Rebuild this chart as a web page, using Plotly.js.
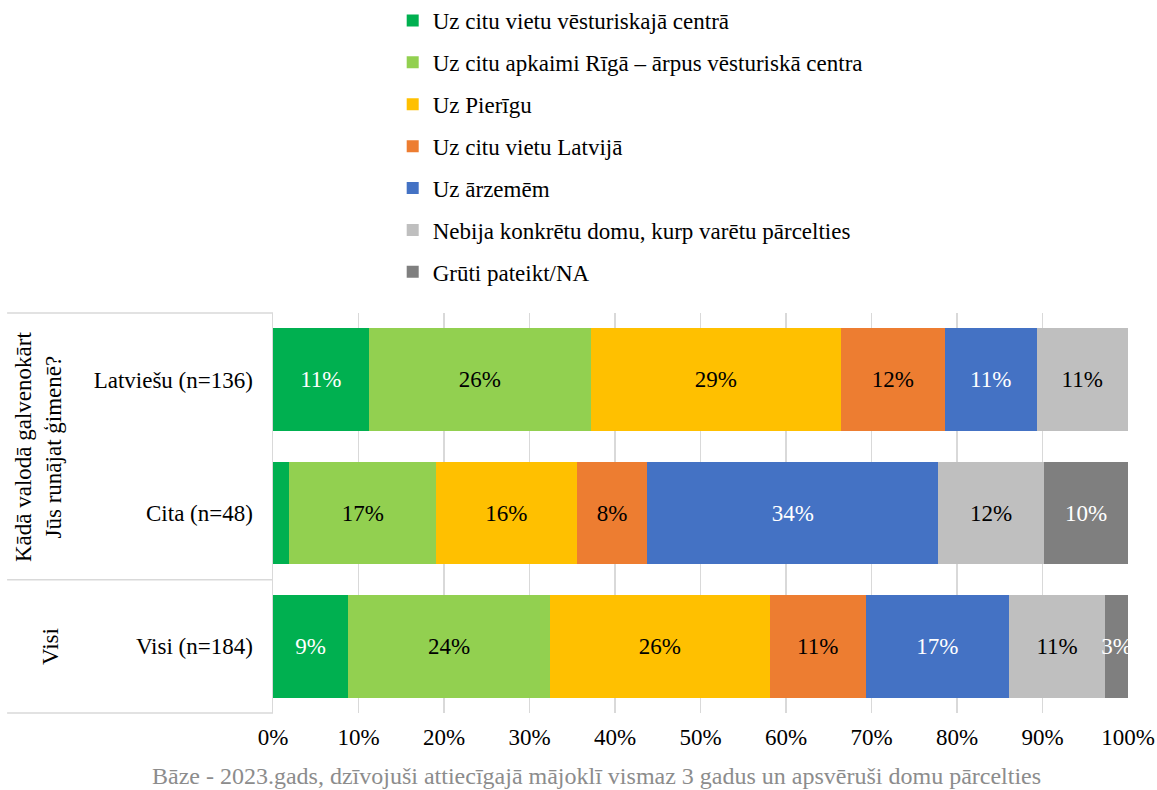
<!DOCTYPE html>
<html>
<head>
<meta charset="utf-8">
<script src="https://cdn.plot.ly/plotly-3.0.1.min.js"></script>
<style>html,body{margin:0;padding:0;background:#fff}#chart{width:1157px;height:790px}</style>
</head>
<body>
<div id="chart"></div>
<script>
const categories = ["Latviešu (n=136)", "Cita (n=48)", "Visi (n=184)"];
const seriesNames = [
  "Uz citu vietu vēsturiskajā centrā",
  "Uz citu apkaimi Rīgā – ārpus vēsturiskā centra",
  "Uz Pierīgu",
  "Uz citu vietu Latvijā",
  "Uz ārzemēm",
  "Nebija konkrētu domu, kurp varētu pārcelties",
  "Grūti pateikt/NA"
];
const vesturiskajaCentra = [11.2, 1.9, 8.8];
const citaApkaimeRiga   = [26.0, 17.2, 23.6];
const pieriga           = [29.2, 16.4, 25.7];
const citaVietaLatvija  = [12.2, 8.3, 11.2];
const arzemes           = [10.7, 34.0, 16.8];
const nebijaDomu        = [10.7, 12.4, 11.2];
const grutiPateikt      = [0.0, 9.8, 2.7];
const xTickVals = [0, 10, 20, 30, 40, 50, 60, 70, 80, 90, 100];
const xTickText = ["0%", "10%", "20%", "30%", "40%", "50%", "60%", "70%", "80%", "90%", "100%"];
const groupLabel1 = "Kādā valodā galvenokārt<br>Jūs runājat ģimenē?";
const groupLabel2 = "Visi";
const footnote = "Bāze - 2023.gads, dzīvojuši attiecīgajā mājoklī vismaz 3 gadus un apsvēruši domu pārcelties";

const seriesValues = [vesturiskajaCentra, citaApkaimeRiga, pieriga, citaVietaLatvija, arzemes, nebijaDomu, grutiPateikt];
const colors = ["#00B050", "#92D050", "#FFC000", "#ED7D31", "#4472C4", "#BFBFBF", "#7F7F7F"];
const textColors = ["#ffffff", "#000000", "#000000", "#000000", "#ffffff", "#000000", "#ffffff"];

const FONT = "Times New Roman, Liberation Serif, DejaVu Serif, serif";
const FS = 23;

const traces = seriesValues.map((vals, i) => ({
  type: "bar",
  orientation: "h",
  name: seriesNames[i],
  legendgroup: "g" + i,
  y: categories,
  x: vals,
  width: 0.77,
  marker: {color: colors[i], line: {width: 0}},
  text: vals.map(v => v >= 2.5 ? Math.round(v) + "%" : ""),
  textposition: "inside",
  insidetextanchor: "middle",
  textangle: 0,
  constraintext: "none",
  cliponaxis: true,
  insidetextfont: {family: FONT, size: FS, color: textColors[i]},
  hoverinfo: "skip"
}));

const layout = {
  width: 1157, height: 790,
  margin: {l: 273, r: 29, t: 313, b: 77, pad: 0, autoexpand: false},
  paper_bgcolor: "#ffffff", plot_bgcolor: "#ffffff",
  barmode: "stack",
  font: {family: FONT, size: FS, color: "#000"},
  showlegend: true,
  legend: {
    x: 0.140, xanchor: "left", y: 1.785, yanchor: "top",
    orientation: "v", traceorder: "grouped", tracegroupgap: 9,
    font: {family: FONT, size: FS, color: "#000"},
    bgcolor: "rgba(0,0,0,0)"
  },
  xaxis: {
    range: [0, 100], tickvals: xTickVals, ticktext: xTickText,
    showgrid: true, gridcolor: "#D9D9D9", gridwidth: 1.5,
    zeroline: false, showline: false, ticks: "",
    ticklabelstandoff: 8,
    tickfont: {family: FONT, size: FS, color: "#000"},
    fixedrange: true
  },
  yaxis: {
    autorange: "reversed", type: "category",
    showgrid: false, zeroline: false,
    showline: true, linecolor: "#D9D9D9", linewidth: 1.5,
    ticks: "", ticklabelstandoff: 14,
    tickfont: {family: FONT, size: FS, color: "#000"},
    fixedrange: true
  },
  shapes: [
    {type: "line", xref: "paper", yref: "paper", x0: -0.311, x1: 0, y0: 1, y1: 1, line: {color: "#D9D9D9", width: 1.5}},
    {type: "line", xref: "paper", yref: "y", x0: -0.311, x1: 0, y0: 1.5, y1: 1.5, line: {color: "#D9D9D9", width: 1.5}},
    {type: "line", xref: "paper", yref: "paper", x0: -0.311, x1: 0, y0: 0, y1: 0, line: {color: "#D9D9D9", width: 1.5}}
  ],
  annotations: [
    {xref: "paper", yref: "y", x: -0.274, y: 0.5, text: groupLabel1, textangle: -90, showarrow: false,
     font: {family: FONT, size: FS, color: "#000"}, xanchor: "center", yanchor: "middle"},
    {xref: "paper", yref: "y", x: -0.260, y: 2, text: groupLabel2, textangle: -90, showarrow: false,
     font: {family: FONT, size: FS, color: "#000"}, xanchor: "center", yanchor: "middle"},
    {xref: "paper", yref: "paper", x: 0.378, y: -0.158, text: footnote, showarrow: false,
     font: {family: FONT, size: 24, color: "#8C8C8C"}, xanchor: "center", yanchor: "middle"}
  ]
};

Plotly.newPlot("chart", traces, layout, {displayModeBar: false, staticPlot: true});
</script>
</body>
</html>
